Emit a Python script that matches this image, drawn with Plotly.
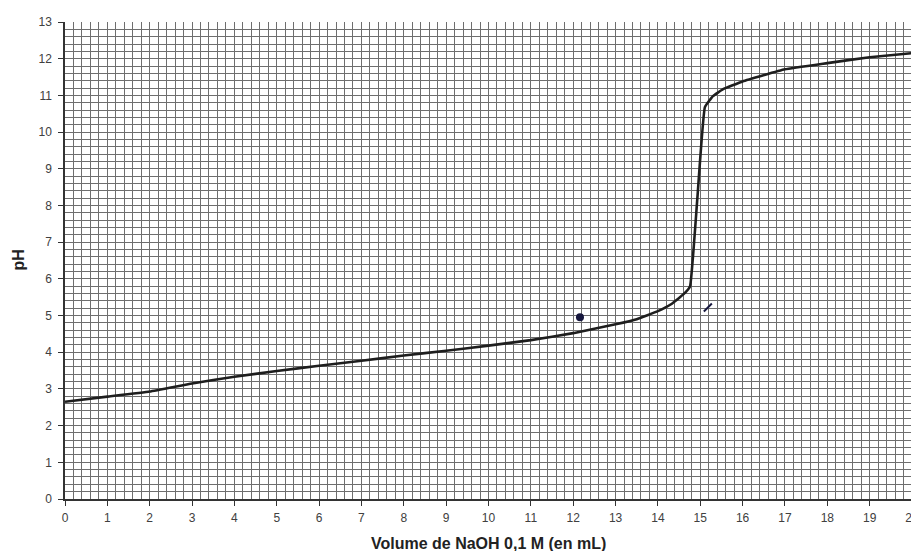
import plotly.graph_objects as go

# Titration curve data
volume_ml = [0, 1, 2, 3, 4, 5, 6, 7, 8, 9, 10, 11, 12, 13, 13.5, 14, 14.3, 14.5,
             14.65, 14.76, 14.93, 15.11, 15.3, 15.54, 16, 17, 18, 19, 20]
ph_values = [2.65, 2.79, 2.93, 3.15, 3.33, 3.49, 3.63, 3.77, 3.91, 4.04, 4.18, 4.33,
             4.52, 4.76, 4.9, 5.12, 5.3, 5.48, 5.63, 5.8, 8.17, 10.68, 10.98, 11.17,
             11.38, 11.71, 11.88, 12.04, 12.15]

# Hand-drawn marks on the sheet
dot_x = [12.16]
dot_y = [4.95]
stroke_x = [15.18]
stroke_y = [5.22]

x_ticks = list(range(0, 21))
y_ticks = list(range(0, 14))

x_title = "Volume de NaOH 0,1 M (en mL)"
y_title = "pH"

grid_col = "#6e6e6e"
font_fam = "Liberation Sans, Arial, sans-serif"

# the page body has an 8px margin, so the figure is shrunk by 8px on left/top
ML, MT, MR, MB = 57, 14, 7, 52
PW, PH = 847, 477

fig = go.Figure()
fig.add_trace(go.Scatter(x=volume_ml, y=ph_values, mode="lines",
                         line=dict(color="#1e1e1e", width=2.6, shape="spline", smoothing=0.3),
                         showlegend=False, hoverinfo="skip"))
fig.add_trace(go.Scatter(x=dot_x, y=dot_y, mode="markers",
                         marker=dict(color="#15163d", size=8, symbol="circle"),
                         showlegend=False))
fig.add_trace(go.Scatter(x=stroke_x, y=stroke_y, mode="markers",
                         marker=dict(color="#15163d", size=8, symbol="line-ne",
                                     line=dict(color="#15163d", width=2)),
                         showlegend=False))

axis_common = dict(
    showgrid=True, gridcolor=grid_col, gridwidth=1,
    showline=True, linecolor="#333", linewidth=1.5,
    ticks="outside", ticklen=5, tickcolor="#333",
    zeroline=False, automargin=False,
    tickfont=dict(size=12, color="#404040"),
)

fig.update_layout(
    width=ML + PW + MR, height=MT + PH + MB,
    margin=dict(l=ML, r=MR, t=MT, b=MB),
    paper_bgcolor="white", plot_bgcolor="white",
    font=dict(family=font_fam, color="#3a3a3a", size=12),
    xaxis=dict(
        range=[0, 20], tickmode="array", tickvals=x_ticks,
        ticktext=[str(v) for v in x_ticks],
        minor=dict(dtick=0.2, showgrid=True, gridcolor=grid_col, gridwidth=1),
        ticklabelstandoff=2,
        **axis_common,
    ),
    yaxis=dict(
        range=[0, 13], tickmode="array", tickvals=y_ticks,
        ticktext=[str(v) for v in y_ticks],
        minor=dict(dtick=0.2, showgrid=True, gridcolor=grid_col, gridwidth=1),
        ticklabelstandoff=4,
        **axis_common,
    ),
    annotations=[
        dict(text="<b>" + x_title + "</b>", xref="paper", yref="paper",
             x=0.5, y=-(543 - 499) / PH, xanchor="center", yanchor="middle",
             showarrow=False, font=dict(size=16, color="#222", family=font_fam)),
        dict(text="<b>" + y_title + "</b>", xref="paper", yref="paper",
             x=-(65 - 18) / PW, y=0.5, xanchor="center", yanchor="middle",
             textangle=-90, showarrow=False,
             font=dict(size=16, color="#222", family=font_fam)),
    ],
)

fig.write_html("out.html")
